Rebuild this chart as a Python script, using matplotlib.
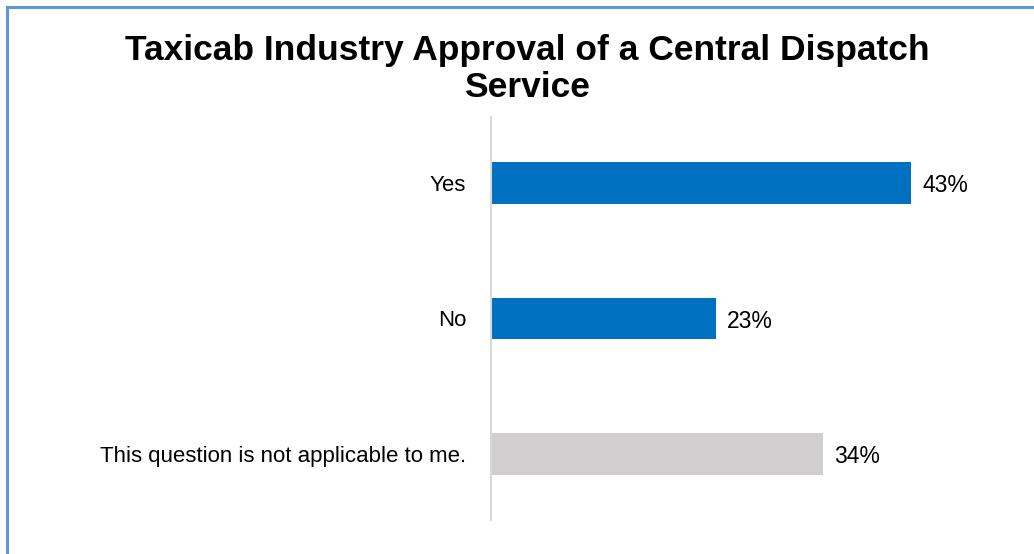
import matplotlib.pyplot as plt
from matplotlib.lines import Line2D

plt.rcParams['font.family'] = ['Liberation Sans', 'DejaVu Sans']

categories = ['Yes', 'No', 'This question is not applicable to me.']
values = [43, 23, 34]
colors = ['#0070C0', '#0070C0', '#D0CECE']

W, H = 1034, 554
fig = plt.figure(figsize=(W / 100, H / 100), dpi=100)
ax = fig.add_axes([491 / W, 1 - 520 / H, (1010 - 491) / W, (520 - 117) / H])

y = range(len(categories))
ax.barh(y, values, height=0.31, color=colors)
ax.set_xlim(0, 53.1)
ax.set_ylim(2.49, -0.49)

for yi, v in zip(y, values):
    ax.annotate(f'{v}%', (v, yi + 0.02), xytext=(8, 0), textcoords='offset points',
                va='center', ha='left', fontsize=16.5)

ax.set_yticks(list(y))
ax.set_yticklabels(categories, fontsize=16)
ax.tick_params(axis='y', length=0, pad=18)
ax.set_xticks([])
for s in ['top', 'right', 'bottom']:
    ax.spines[s].set_visible(False)
ax.spines['left'].set_color('#D9D9D9')
ax.spines['left'].set_linewidth(1.5)

fig.text(527 / W, 1 - 69 / H, 'Taxicab Industry Approval of a Central Dispatch\nService',
         ha='center', va='center', fontsize=25.5, fontweight='bold', linespacing=1.17)

# blue frame (left and top edges)
fig.add_artist(Line2D([7 / W, 7 / W], [0, 1 - 7 / H], color='#5B9BD5', lw=2.2))
fig.add_artist(Line2D([7 / W, 1], [1 - 7 / H, 1 - 7 / H], color='#5B9BD5', lw=2.2))

fig.savefig('out.png', dpi=100)
